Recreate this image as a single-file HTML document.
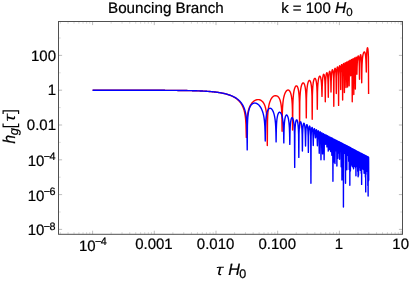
<!DOCTYPE html>
<html><head><meta charset="utf-8"><title>plot</title>
<style>html,body{margin:0;padding:0;background:#fff;}svg{display:block;will-change:transform;}</style></head>
<body>
<svg width="409" height="281" viewBox="0 0 409 281" text-rendering="geometricPrecision">
<rect x="0" y="0" width="409" height="281" fill="#fff"/>
<clipPath id="c"><rect x="58.5" y="21.5" width="344.0" height="212.8"/></clipPath>
<g clip-path="url(#c)" fill="none" stroke-width="1.4" stroke-linejoin="round" stroke-linecap="butt">
<path d="M92.60 90.21 L92.99 90.21 L93.37 90.21 L93.76 90.21 L94.14 90.21 L94.53 90.21 L94.92 90.21 L95.30 90.21 L95.69 90.21 L96.08 90.21 L96.46 90.21 L96.85 90.21 L97.23 90.21 L97.62 90.21 L98.01 90.21 L98.39 90.21 L98.78 90.21 L99.16 90.21 L99.55 90.21 L99.94 90.21 L100.32 90.21 L100.71 90.21 L101.10 90.21 L101.48 90.21 L101.87 90.21 L102.25 90.21 L102.64 90.21 L103.03 90.21 L103.41 90.21 L103.80 90.21 L104.18 90.21 L104.57 90.21 L104.96 90.21 L105.34 90.21 L105.73 90.21 L106.12 90.21 L106.50 90.21 L106.89 90.21 L107.27 90.21 L107.66 90.21 L108.05 90.21 L108.43 90.21 L108.82 90.21 L109.20 90.21 L109.59 90.21 L109.98 90.21 L110.36 90.21 L110.75 90.21 L111.14 90.21 L111.52 90.21 L111.91 90.21 L112.29 90.21 L112.68 90.21 L113.07 90.21 L113.45 90.21 L113.84 90.22 L114.22 90.22 L114.61 90.22 L115.00 90.22 L115.38 90.22 L115.77 90.22 L116.16 90.22 L116.54 90.22 L116.93 90.22 L117.31 90.22 L117.70 90.22 L118.09 90.22 L118.47 90.22 L118.86 90.22 L119.24 90.22 L119.63 90.22 L120.02 90.22 L120.40 90.22 L120.79 90.22 L121.17 90.22 L121.56 90.22 L121.95 90.22 L122.33 90.22 L122.72 90.22 L123.11 90.22 L123.49 90.22 L123.88 90.22 L124.26 90.22 L124.65 90.22 L125.04 90.22 L125.42 90.22 L125.81 90.22 L126.19 90.22 L126.58 90.22 L126.97 90.23 L127.35 90.23 L127.74 90.23 L128.13 90.23 L128.51 90.23 L128.90 90.23 L129.28 90.23 L129.67 90.23 L130.06 90.23 L130.44 90.23 L130.83 90.23 L131.21 90.23 L131.60 90.23 L131.99 90.23 L132.37 90.23 L132.76 90.23 L133.15 90.23 L133.53 90.23 L133.92 90.23 L134.30 90.23 L134.69 90.23 L135.08 90.23 L135.46 90.24 L135.85 90.24 L136.23 90.24 L136.62 90.24 L137.01 90.24 L137.39 90.24 L137.78 90.24 L138.17 90.24 L138.55 90.24 L138.94 90.24 L139.32 90.24 L139.71 90.24 L140.10 90.24 L140.48 90.24 L140.87 90.24 L141.25 90.25 L141.64 90.25 L142.03 90.25 L142.41 90.25 L142.80 90.25 L143.19 90.25 L143.57 90.25 L143.96 90.25 L144.34 90.25 L144.73 90.25 L145.12 90.25 L145.50 90.25 L145.89 90.25 L146.27 90.26 L146.66 90.26 L147.05 90.26 L147.43 90.26 L147.82 90.26 L148.21 90.26 L148.59 90.26 L148.98 90.26 L149.36 90.26 L149.75 90.26 L150.14 90.27 L150.52 90.27 L150.91 90.27 L151.29 90.27 L151.68 90.27 L152.07 90.27 L152.45 90.27 L152.84 90.27 L153.23 90.27 L153.61 90.28 L154.00 90.28 L154.38 90.28 L154.77 90.28 L155.16 90.28 L155.54 90.28 L155.93 90.28 L156.31 90.29 L156.70 90.29 L157.09 90.29 L157.47 90.29 L157.86 90.29 L158.25 90.29 L158.63 90.29 L159.02 90.30 L159.40 90.30 L159.79 90.30 L160.18 90.30 L160.56 90.30 L160.95 90.30 L161.33 90.31 L161.72 90.31 L162.11 90.31 L162.49 90.31 L162.88 90.31 L163.27 90.32 L163.65 90.32 L164.04 90.32 L164.42 90.32 L164.81 90.32 L165.20 90.33 L165.58 90.33 L165.97 90.33 L166.35 90.33 L166.74 90.34 L167.13 90.34 L167.51 90.34 L167.90 90.34 L168.29 90.35 L168.67 90.35 L169.06 90.35 L169.44 90.35 L169.83 90.36 L170.22 90.36 L170.60 90.36 L170.99 90.37 L171.37 90.37 L171.76 90.37 L172.15 90.37 L172.53 90.38 L172.92 90.38 L173.30 90.38 L173.69 90.39 L174.08 90.39 L174.46 90.39 L174.85 90.40 L175.24 90.40 L175.62 90.41 L176.01 90.41 L176.39 90.41 L176.78 90.42 L177.17 90.42 L177.55 90.43 L177.94 90.43 L178.32 90.44 L178.71 90.44 L179.10 90.44 L179.48 90.45 L179.87 90.45 L180.26 90.46 L180.64 90.46 L181.03 90.47 L181.41 90.47 L181.80 90.48 L182.19 90.49 L182.57 90.49 L182.96 90.50 L183.34 90.50 L183.73 90.51 L184.12 90.51 L184.50 90.52 L184.89 90.53 L185.28 90.53 L185.66 90.54 L186.05 90.55 L186.43 90.55 L186.82 90.56 L187.21 90.57 L187.59 90.58 L187.98 90.58 L188.36 90.59 L188.75 90.60 L189.14 90.61 L189.52 90.62 L189.91 90.62 L190.30 90.63 L190.68 90.64 L191.07 90.65 L191.45 90.66 L191.84 90.67 L192.23 90.68 L192.61 90.69 L193.00 90.70 L193.38 90.71 L193.77 90.72 L194.16 90.73 L194.54 90.75 L194.93 90.76 L195.32 90.77 L195.70 90.78 L196.09 90.79 L196.47 90.81 L196.86 90.82 L197.25 90.83 L197.63 90.85 L198.02 90.86 L198.40 90.88 L198.79 90.89 L199.18 90.91 L199.56 90.92 L199.95 90.94 L200.34 90.95 L200.72 90.97 L201.11 90.99 L201.49 91.00 L201.88 91.02 L202.27 91.04 L202.65 91.06 L203.04 91.08 L203.42 91.10 L203.81 91.12 L204.20 91.14 L204.58 91.16 L204.97 91.18 L205.36 91.21 L205.74 91.23 L206.13 91.25 L206.51 91.28 L206.90 91.30 L207.29 91.33 L207.67 91.36 L208.06 91.38 L208.44 91.41 L208.83 91.44 L209.22 91.47 L209.60 91.50 L209.99 91.53 L210.38 91.56 L210.76 91.59 L211.15 91.63 L211.53 91.66 L211.92 91.70 L212.31 91.73 L212.69 91.77 L213.08 91.81 L213.46 91.85 L213.85 91.89 L214.24 91.93 L214.62 91.97 L215.01 92.02 L215.40 92.06 L215.78 92.11 L216.17 92.16 L216.55 92.20 L216.94 92.25 L217.33 92.31 L217.71 92.36 L218.10 92.41 L218.48 92.47 L218.87 92.53 L219.26 92.59 L219.64 92.65 L220.03 92.71 L220.42 92.78 L220.80 92.84 L221.19 92.91 L221.57 92.98 L221.96 93.06 L222.35 93.13 L222.73 93.21 L223.12 93.29 L223.50 93.37 L223.89 93.46 L224.28 93.55 L224.66 93.64 L225.05 93.73 L225.43 93.83 L225.82 93.92 L226.21 94.03 L226.59 94.13 L226.98 94.24 L227.37 94.35 L227.75 94.47 L228.14 94.59 L228.51 94.72 L228.89 94.84 L229.27 94.98 L229.65 95.12 L230.03 95.26 L230.41 95.41 L230.79 95.56 L231.16 95.72 L231.54 95.88 L231.92 96.05 L232.30 96.23 L232.68 96.41 L233.06 96.60 L233.44 96.80 L233.81 97.01 L234.19 97.22 L234.57 97.44 L234.95 97.68 L235.33 97.92 L235.71 98.17 L236.09 98.44 L236.47 98.71 L236.84 99.00 L237.22 99.31 L237.60 99.63 L237.98 99.96 L238.36 100.32 L238.74 100.69 L239.12 101.08 L239.49 101.50 L239.87 101.94 L240.25 102.42 L240.63 102.92 L241.01 103.46 L241.39 104.05 L241.77 104.68 L242.15 105.36 L242.52 106.12 L242.90 106.95 L243.28 107.88 L243.66 108.93 L244.04 110.14 L244.42 111.57 L244.80 113.31 L245.17 115.54 L245.55 118.67 L245.94 123.97 L246.32 137.40 L246.53 128.46 L246.73 123.18 L246.93 120.08 L247.13 117.87 L247.33 116.15 L247.53 114.74 L247.74 113.55 L247.94 112.51 L248.14 111.59 L248.34 110.77 L248.54 110.03 L248.74 109.36 L248.95 108.74 L249.15 108.16 L249.35 107.63 L249.55 107.13 L249.75 106.67 L249.95 106.23 L250.16 105.82 L250.36 105.44 L250.56 105.07 L250.76 104.73 L250.96 104.40 L251.16 104.09 L251.37 103.80 L251.57 103.51 L251.77 103.25 L251.97 103.00 L252.17 102.75 L252.37 102.52 L252.58 102.31 L252.78 102.10 L252.98 101.90 L253.18 101.71 L253.38 101.54 L253.59 101.37 L253.79 101.21 L253.99 101.06 L254.19 100.91 L254.39 100.78 L254.59 100.65 L254.80 100.53 L255.00 100.42 L255.20 100.31 L255.40 100.21 L255.60 100.12 L255.80 100.04 L256.01 99.97 L256.21 99.90 L256.41 99.83 L256.61 99.78 L256.81 99.73 L257.01 99.69 L257.22 99.65 L257.42 99.63 L257.62 99.61 L257.82 99.59 L258.02 99.59 L258.22 99.59 L258.43 99.59 L258.63 99.61 L258.83 99.63 L259.03 99.66 L259.23 99.70 L259.43 99.75 L259.64 99.80 L259.84 99.86 L260.04 99.93 L260.24 100.01 L260.44 100.10 L260.64 100.20 L260.85 100.31 L261.05 100.42 L261.25 100.55 L261.45 100.69 L261.65 100.84 L261.85 101.01 L262.06 101.18 L262.26 101.37 L262.46 101.58 L262.66 101.80 L262.86 102.04 L263.06 102.29 L263.27 102.57 L263.47 102.87 L263.67 103.19 L263.87 103.53 L264.07 103.91 L264.27 104.31 L264.48 104.76 L264.68 105.24 L264.88 105.77 L265.08 106.36 L265.28 107.01 L265.48 107.74 L265.69 108.56 L265.89 109.51 L266.09 110.62 L266.29 111.94 L266.49 113.57 L266.69 115.69 L266.90 118.70 L267.10 123.89 L267.30 145.60 L267.50 121.23 L267.70 115.96 L267.90 112.86 L268.10 110.66 L268.30 108.95 L268.50 107.55 L268.70 106.37 L268.90 105.35 L269.10 104.46 L269.30 103.66 L269.50 102.94 L269.70 102.29 L269.90 101.70 L270.10 101.16 L270.30 100.66 L270.50 100.20 L270.70 99.78 L270.90 99.38 L271.10 99.02 L271.30 98.68 L271.50 98.36 L271.70 98.07 L271.90 97.80 L272.10 97.55 L272.30 97.32 L272.50 97.10 L272.70 96.90 L272.90 96.72 L273.10 96.56 L273.30 96.41 L273.50 96.27 L273.70 96.15 L273.90 96.04 L274.10 95.95 L274.30 95.87 L274.50 95.81 L274.70 95.76 L274.90 95.72 L275.10 95.69 L275.30 95.68 L275.50 95.69 L275.70 95.70 L275.90 95.74 L276.10 95.78 L276.30 95.84 L276.50 95.87 L276.70 95.91 L276.90 95.97 L277.10 96.05 L277.30 96.14 L277.50 96.26 L277.70 96.39 L277.90 96.54 L278.10 96.72 L278.30 96.92 L278.50 97.15 L278.70 97.40 L278.90 97.69 L279.10 98.01 L279.30 98.37 L279.50 98.77 L279.70 99.22 L279.90 99.73 L280.10 100.31 L280.30 100.97 L280.50 101.73 L280.70 102.61 L280.90 103.65 L281.10 104.91 L281.30 106.48 L281.50 108.54 L281.70 111.50 L281.90 116.64 L282.10 131.20 L282.30 113.78 L282.50 108.46 L282.71 105.33 L282.91 103.09 L283.11 101.35 L283.31 99.93 L283.51 98.73 L283.72 97.69 L283.92 96.79 L284.12 95.99 L284.32 95.27 L284.52 94.63 L284.73 94.05 L284.93 93.52 L285.13 93.05 L285.33 92.61 L285.53 92.22 L285.73 91.87 L285.94 91.55 L286.14 91.27 L286.34 91.02 L286.54 90.79 L286.74 90.60 L286.95 90.44 L287.15 90.30 L287.35 90.19 L287.55 90.11 L287.75 90.05 L287.96 90.03 L288.16 90.03 L288.36 90.06 L288.56 90.13 L288.76 90.22 L288.97 90.34 L289.17 90.50 L289.37 90.69 L289.57 90.93 L289.77 91.21 L289.98 91.54 L290.18 91.93 L290.38 92.37 L290.58 92.90 L290.78 93.50 L290.98 94.21 L291.19 95.05 L291.39 96.06 L291.59 97.29 L291.79 98.83 L291.99 100.87 L292.20 103.81 L292.40 108.94 L292.60 130.00 L292.80 105.75 L293.00 100.45 L293.20 97.34 L293.40 95.13 L293.60 93.44 L293.80 92.08 L294.00 90.95 L294.20 90.00 L294.40 89.19 L294.60 88.50 L294.80 87.91 L295.00 87.40 L295.20 86.98 L295.40 86.62 L295.60 86.34 L295.80 86.12 L296.00 85.96 L296.20 85.86 L296.40 85.83 L296.60 85.86 L296.80 85.96 L297.00 86.13 L297.20 86.38 L297.40 86.70 L297.60 87.10 L297.80 87.61 L298.00 88.24 L298.20 89.00 L298.40 89.95 L298.60 91.12 L298.80 92.63 L299.00 94.65 L299.20 97.58 L299.40 102.70 L299.60 128.00 L299.80 102.08 L300.01 96.79 L300.21 93.70 L300.41 91.52 L300.62 89.85 L300.82 88.51 L301.02 87.41 L301.22 86.49 L301.43 85.72 L301.63 85.07 L301.83 84.52 L302.04 84.06 L302.24 83.68 L302.44 83.38 L302.65 83.16 L302.85 83.00 L303.05 82.92 L303.25 82.90 L303.46 82.95 L303.66 83.09 L303.86 83.29 L304.07 83.59 L304.27 83.97 L304.47 84.45 L304.68 85.06 L304.88 85.81 L305.08 86.75 L305.28 87.92 L305.49 89.42 L305.69 91.43 L305.89 94.36 L306.10 99.48 L306.30 117.90 L306.50 98.35 L306.71 93.08 L306.91 90.01 L307.11 87.86 L307.32 86.23 L307.52 84.93 L307.72 83.89 L307.93 83.03 L308.13 82.33 L308.33 81.76 L308.54 81.30 L308.74 80.94 L308.94 80.68 L309.15 80.51 L309.35 80.43 L309.56 80.44 L309.76 80.54 L309.96 80.74 L310.17 81.04 L310.37 81.46 L310.57 82.00 L310.78 82.70 L310.98 83.59 L311.18 84.73 L311.39 86.20 L311.59 88.19 L311.79 91.10 L312.00 96.22 L312.20 119.30 L312.40 94.95 L312.61 89.69 L312.81 86.65 L313.02 84.54 L313.22 82.96 L313.42 81.73 L313.63 80.76 L313.83 79.99 L314.04 79.39 L314.24 78.93 L314.44 78.61 L314.65 78.41 L314.85 78.33 L315.06 78.37 L315.26 78.52 L315.46 78.80 L315.67 79.23 L315.87 79.83 L316.08 80.64 L316.28 81.70 L316.48 83.11 L316.69 85.05 L316.89 87.92 L317.10 93.01 L317.30 109.30 L317.50 92.20 L317.71 86.94 L317.91 83.90 L318.12 81.80 L318.32 80.24 L318.53 79.04 L318.73 78.11 L318.93 77.39 L319.14 76.85 L319.34 76.46 L319.55 76.23 L319.75 76.14 L319.96 76.19 L320.16 76.38 L320.37 76.74 L320.57 77.27 L320.77 78.02 L320.98 79.03 L321.18 80.41 L321.39 82.32 L321.59 85.17 L321.80 90.25 L322.00 96.40 L322.21 87.34 L322.41 82.15 L322.62 79.24 L322.82 77.32 L323.03 76.00 L323.24 75.11 L323.44 74.56 L323.65 74.32 L323.86 74.37 L324.06 74.72 L324.27 75.41 L324.48 76.53 L324.68 78.25 L324.89 80.96 L325.09 85.95 L325.30 101.80 L325.50 85.27 L325.70 80.10 L325.90 77.22 L326.10 75.34 L326.30 74.09 L326.50 73.28 L326.70 72.84 L326.90 72.74 L327.10 72.98 L327.30 73.58 L327.50 74.63 L327.70 76.30 L327.90 78.98 L328.10 83.95 L328.30 97.30 L328.51 82.67 L328.72 77.55 L328.92 74.76 L329.13 73.02 L329.34 71.95 L329.55 71.39 L329.75 71.28 L329.96 71.62 L330.17 72.47 L330.38 73.98 L330.58 76.55 L330.79 81.45 L331.00 92.00 L331.20 81.77 L331.40 76.61 L331.60 73.76 L331.80 71.94 L332.00 70.76 L332.20 70.05 L332.40 69.74 L332.60 69.82 L332.80 70.31 L333.00 71.27 L333.20 72.86 L333.40 75.49 L333.60 80.43 L333.80 106.30 L334.01 79.06 L334.22 73.96 L334.43 71.23 L334.63 69.58 L334.84 68.64 L335.05 68.26 L335.26 68.40 L335.47 69.11 L335.68 70.53 L335.88 73.03 L336.09 77.89 L336.30 93.50 L336.51 77.01 L336.72 71.97 L336.93 69.32 L337.14 67.80 L337.35 67.05 L337.55 66.93 L337.76 67.45 L337.97 68.74 L338.18 71.15 L338.39 75.96 L338.60 105.40 L338.81 75.03 L339.02 70.05 L339.23 67.52 L339.44 66.18 L339.65 65.68 L339.87 65.94 L340.08 67.04 L340.29 69.34 L340.50 74.08 L340.71 89.56 L340.92 73.07 L341.14 68.19 L341.35 65.81 L341.57 64.73 L341.78 64.62 L342.00 65.48 L342.21 67.62 L342.43 72.27 L342.64 100.00 L342.86 71.19 L343.08 66.44 L343.31 64.30 L343.53 63.59 L343.75 64.07 L343.97 65.98 L344.19 70.50 L344.41 92.50 L344.62 70.28 L344.82 65.53 L345.02 63.41 L345.22 62.70 L345.43 63.19 L345.63 65.11 L345.83 69.64 L346.04 87.57 L346.26 68.47 L346.48 63.91 L346.70 62.12 L346.92 62.01 L347.14 63.56 L347.37 67.89 L347.59 87.07 L347.81 67.66 L348.03 63.10 L348.25 61.31 L348.47 61.20 L348.69 62.75 L348.92 67.08 L349.14 85.70 L349.36 66.85 L349.58 62.29 L349.80 60.50 L350.02 60.39 L350.24 61.94 L350.47 66.27 L350.69 75.84 L350.91 66.04 L351.13 61.48 L351.35 59.69 L351.57 59.58 L351.79 61.13 L352.02 65.46 L352.24 101.80 L352.46 65.23 L352.68 60.67 L352.90 58.88 L353.12 58.77 L353.34 60.32 L353.57 64.65 L353.79 94.60 L354.01 64.42 L354.23 59.86 L354.45 58.07 L354.67 57.96 L354.89 59.51 L355.12 63.84 L355.34 89.10 L355.56 63.61 L355.78 59.04 L356.00 57.26 L356.22 57.15 L356.44 58.70 L356.67 63.03 L356.89 74.33 L357.09 67.31 L357.29 62.19 L357.49 59.40 L357.69 57.66 L357.89 56.59 L358.09 56.03 L358.29 55.93 L358.49 56.27 L358.70 57.13 L358.90 58.66 L359.10 61.24 L359.30 66.15 L359.50 79.30 L359.72 64.00 L359.94 59.03 L360.16 56.50 L360.38 55.16 L360.60 54.67 L360.82 54.93 L361.04 56.04 L361.26 58.34 L361.48 63.03 L361.70 82.70 L361.90 68.90 L362.10 63.58 L362.30 60.48 L362.50 58.31 L362.70 56.69 L362.90 55.43 L363.10 54.43 L363.30 53.64 L363.50 53.04 L363.70 52.59 L363.90 52.30 L364.10 52.09 L364.30 51.97 L364.50 52.01 L364.70 52.20 L364.90 52.57 L365.10 53.16 L365.30 54.01 L365.50 55.22 L365.70 56.97 L365.90 59.66 L366.10 64.57 L366.30 72.00 L366.51 58.55 L366.72 53.35 L366.93 50.55 L367.14 48.88 L367.35 47.98 L367.55 47.74 L367.76 48.26 L367.97 49.53 L368.18 51.94 L368.39 56.74 L368.60 94.00" stroke="#ff0000"/>
<path d="M92.60 90.21 L92.99 90.21 L93.37 90.21 L93.76 90.21 L94.14 90.21 L94.53 90.21 L94.92 90.21 L95.30 90.21 L95.69 90.21 L96.08 90.21 L96.46 90.21 L96.85 90.21 L97.23 90.21 L97.62 90.21 L98.01 90.21 L98.39 90.21 L98.78 90.21 L99.16 90.21 L99.55 90.21 L99.94 90.21 L100.32 90.21 L100.71 90.21 L101.10 90.21 L101.48 90.21 L101.87 90.21 L102.25 90.21 L102.64 90.21 L103.03 90.21 L103.41 90.21 L103.80 90.21 L104.18 90.21 L104.57 90.21 L104.96 90.21 L105.34 90.21 L105.73 90.21 L106.12 90.21 L106.50 90.21 L106.89 90.21 L107.27 90.21 L107.66 90.21 L108.05 90.21 L108.43 90.21 L108.82 90.21 L109.20 90.21 L109.59 90.21 L109.98 90.21 L110.36 90.21 L110.75 90.21 L111.14 90.21 L111.52 90.21 L111.91 90.21 L112.29 90.21 L112.68 90.21 L113.07 90.21 L113.45 90.21 L113.84 90.22 L114.22 90.22 L114.61 90.22 L115.00 90.22 L115.38 90.22 L115.77 90.22 L116.16 90.22 L116.54 90.22 L116.93 90.22 L117.31 90.22 L117.70 90.22 L118.09 90.22 L118.47 90.22 L118.86 90.22 L119.24 90.22 L119.63 90.22 L120.02 90.22 L120.40 90.22 L120.79 90.22 L121.17 90.22 L121.56 90.22 L121.95 90.22 L122.33 90.22 L122.72 90.22 L123.11 90.22 L123.49 90.22 L123.88 90.22 L124.26 90.22 L124.65 90.22 L125.04 90.22 L125.42 90.22 L125.81 90.22 L126.19 90.22 L126.58 90.22 L126.97 90.23 L127.35 90.23 L127.74 90.23 L128.13 90.23 L128.51 90.23 L128.90 90.23 L129.28 90.23 L129.67 90.23 L130.06 90.23 L130.44 90.23 L130.83 90.23 L131.21 90.23 L131.60 90.23 L131.99 90.23 L132.37 90.23 L132.76 90.23 L133.15 90.23 L133.53 90.23 L133.92 90.23 L134.30 90.23 L134.69 90.23 L135.08 90.23 L135.46 90.24 L135.85 90.24 L136.23 90.24 L136.62 90.24 L137.01 90.24 L137.39 90.24 L137.78 90.24 L138.17 90.24 L138.55 90.24 L138.94 90.24 L139.32 90.24 L139.71 90.24 L140.10 90.24 L140.48 90.24 L140.87 90.24 L141.25 90.25 L141.64 90.25 L142.03 90.25 L142.41 90.25 L142.80 90.25 L143.19 90.25 L143.57 90.25 L143.96 90.25 L144.34 90.25 L144.73 90.25 L145.12 90.25 L145.50 90.25 L145.89 90.25 L146.27 90.26 L146.66 90.26 L147.05 90.26 L147.43 90.26 L147.82 90.26 L148.21 90.26 L148.59 90.26 L148.98 90.26 L149.36 90.26 L149.75 90.26 L150.14 90.27 L150.52 90.27 L150.91 90.27 L151.29 90.27 L151.68 90.27 L152.07 90.27 L152.45 90.27 L152.84 90.27 L153.23 90.27 L153.61 90.28 L154.00 90.28 L154.38 90.28 L154.77 90.28 L155.16 90.28 L155.54 90.28 L155.93 90.28 L156.31 90.29 L156.70 90.29 L157.09 90.29 L157.47 90.29 L157.86 90.29 L158.25 90.29 L158.63 90.29 L159.02 90.30 L159.40 90.30 L159.79 90.30 L160.18 90.30 L160.56 90.30 L160.95 90.30 L161.33 90.31 L161.72 90.31 L162.11 90.31 L162.49 90.31 L162.88 90.31 L163.27 90.32 L163.65 90.32 L164.04 90.32 L164.42 90.32 L164.81 90.32 L165.20 90.33 L165.58 90.33 L165.97 90.33 L166.35 90.33 L166.74 90.34 L167.13 90.34 L167.51 90.34 L167.90 90.34 L168.29 90.35 L168.67 90.35 L169.06 90.35 L169.44 90.35 L169.83 90.36 L170.22 90.36 L170.60 90.36 L170.99 90.37 L171.37 90.37 L171.76 90.37 L172.15 90.37 L172.53 90.38 L172.92 90.38 L173.30 90.38 L173.69 90.39 L174.08 90.39 L174.46 90.39 L174.85 90.40 L175.24 90.40 L175.62 90.41 L176.01 90.41 L176.39 90.41 L176.78 90.42 L177.17 90.42 L177.55 90.43 L177.94 90.43 L178.32 90.44 L178.71 90.44 L179.10 90.44 L179.48 90.45 L179.87 90.45 L180.26 90.46 L180.64 90.46 L181.03 90.47 L181.41 90.47 L181.80 90.48 L182.19 90.49 L182.57 90.49 L182.96 90.50 L183.34 90.50 L183.73 90.51 L184.12 90.51 L184.50 90.52 L184.89 90.53 L185.28 90.53 L185.66 90.54 L186.05 90.55 L186.43 90.55 L186.82 90.56 L187.21 90.57 L187.59 90.58 L187.98 90.58 L188.36 90.59 L188.75 90.60 L189.14 90.61 L189.52 90.62 L189.91 90.62 L190.30 90.63 L190.68 90.64 L191.07 90.65 L191.45 90.66 L191.84 90.67 L192.23 90.68 L192.61 90.69 L193.00 90.70 L193.38 90.71 L193.77 90.72 L194.16 90.73 L194.54 90.75 L194.93 90.76 L195.32 90.77 L195.70 90.78 L196.09 90.79 L196.47 90.81 L196.86 90.82 L197.25 90.83 L197.63 90.85 L198.02 90.86 L198.40 90.88 L198.79 90.89 L199.18 90.91 L199.56 90.92 L199.95 90.94 L200.34 90.95 L200.72 90.97 L201.11 90.99 L201.49 91.00 L201.88 91.02 L202.27 91.04 L202.65 91.06 L203.04 91.08 L203.42 91.10 L203.81 91.12 L204.20 91.14 L204.58 91.16 L204.97 91.18 L205.36 91.21 L205.74 91.23 L206.13 91.25 L206.51 91.28 L206.90 91.30 L207.29 91.33 L207.67 91.36 L208.06 91.38 L208.44 91.41 L208.83 91.44 L209.22 91.47 L209.60 91.50 L209.99 91.53 L210.38 91.56 L210.76 91.59 L211.15 91.63 L211.53 91.66 L211.92 91.70 L212.31 91.73 L212.69 91.77 L213.08 91.81 L213.46 91.85 L213.85 91.89 L214.24 91.93 L214.62 91.97 L215.01 92.02 L215.40 92.06 L215.78 92.11 L216.17 92.16 L216.55 92.20 L216.94 92.25 L217.33 92.31 L217.71 92.36 L218.10 92.41 L218.48 92.47 L218.87 92.53 L219.26 92.59 L219.64 92.65 L220.03 92.71 L220.42 92.78 L220.80 92.84 L221.19 92.91 L221.57 92.98 L221.96 93.06 L222.35 93.13 L222.73 93.21 L223.12 93.29 L223.50 93.37 L223.89 93.46 L224.28 93.55 L224.66 93.64 L225.05 93.73 L225.43 93.83 L225.82 93.92 L226.21 94.03 L226.59 94.13 L226.98 94.24 L227.37 94.35 L227.75 94.47 L228.14 94.59 L228.54 94.72 L228.94 94.84 L229.34 94.98 L229.73 95.12 L230.13 95.26 L230.53 95.41 L230.93 95.56 L231.33 95.72 L231.72 95.88 L232.12 96.05 L232.52 96.23 L232.92 96.41 L233.32 96.60 L233.71 96.80 L234.11 97.01 L234.51 97.22 L234.91 97.44 L235.31 97.68 L235.70 97.92 L236.10 98.17 L236.50 98.44 L236.90 98.71 L237.30 99.00 L237.69 99.31 L238.09 99.63 L238.49 99.96 L238.89 100.32 L239.28 100.69 L239.68 101.08 L240.08 101.50 L240.48 101.94 L240.88 102.42 L241.27 102.92 L241.67 103.46 L242.07 104.05 L242.47 104.68 L242.87 105.36 L243.26 106.12 L243.66 106.95 L244.06 107.88 L244.46 108.93 L244.86 110.14 L245.25 111.57 L245.65 113.31 L246.05 115.54 L246.45 118.67 L246.84 123.97 L247.22 149.90 L247.42 125.60 L247.62 120.44 L247.82 117.45 L248.03 115.36 L248.23 113.75 L248.43 112.46 L248.63 111.39 L248.83 110.47 L249.03 109.68 L249.23 108.98 L249.43 108.36 L249.63 107.81 L249.83 107.32 L250.03 106.87 L250.23 106.46 L250.43 106.09 L250.63 105.76 L250.83 105.45 L251.03 105.17 L251.23 104.91 L251.43 104.68 L251.63 104.47 L251.83 104.27 L252.03 104.10 L252.23 103.94 L252.43 103.80 L252.63 103.67 L252.83 103.55 L253.03 103.45 L253.23 103.36 L253.43 103.29 L253.63 103.22 L253.83 103.17 L254.03 103.13 L254.23 103.10 L254.43 103.08 L254.63 103.07 L254.83 103.06 L255.03 103.07 L255.23 103.09 L255.43 103.12 L255.64 103.16 L255.84 103.21 L256.04 103.26 L256.24 103.33 L256.44 103.40 L256.64 103.49 L256.84 103.58 L257.04 103.68 L257.24 103.79 L257.44 103.92 L257.64 104.05 L257.84 104.19 L258.04 104.34 L258.24 104.50 L258.44 104.67 L258.64 104.85 L258.84 105.05 L259.04 105.25 L259.24 105.47 L259.44 105.69 L259.64 105.94 L259.84 106.19 L260.04 106.46 L260.24 106.74 L260.44 107.04 L260.64 107.36 L260.84 107.69 L261.04 108.05 L261.24 108.42 L261.44 108.82 L261.64 109.24 L261.84 109.68 L262.04 110.16 L262.24 110.67 L262.44 111.21 L262.64 111.80 L262.84 112.44 L263.04 113.13 L263.25 113.89 L263.45 114.73 L263.65 115.66 L263.85 116.72 L264.05 117.93 L264.25 119.36 L264.45 121.10 L264.65 123.34 L264.85 126.46 L265.05 131.77 L265.25 141.00 L265.45 128.05 L265.65 122.89 L265.85 119.92 L266.05 117.85 L266.25 116.27 L266.45 115.01 L266.66 113.97 L266.86 113.10 L267.06 112.35 L267.26 111.71 L267.46 111.15 L267.66 110.67 L267.86 110.24 L268.06 109.87 L268.27 109.55 L268.47 109.27 L268.67 109.04 L268.87 108.84 L269.07 108.67 L269.27 108.53 L269.47 108.43 L269.67 108.36 L269.88 108.31 L270.08 108.29 L270.28 108.29 L270.48 108.33 L270.68 108.38 L270.88 108.47 L271.08 108.58 L271.28 108.71 L271.48 108.89 L271.69 109.09 L271.89 109.32 L272.09 109.58 L272.29 109.88 L272.49 110.20 L272.69 110.56 L272.89 110.95 L273.09 111.39 L273.30 111.86 L273.50 112.39 L273.70 112.97 L273.90 113.61 L274.10 114.33 L274.30 115.13 L274.50 116.03 L274.70 117.06 L274.91 118.26 L275.11 119.68 L275.31 121.41 L275.51 123.64 L275.71 126.77 L275.91 132.08 L276.11 141.90 L276.32 129.60 L276.52 124.48 L276.72 121.55 L276.92 119.52 L277.13 118.00 L277.33 116.80 L277.53 115.84 L277.74 115.05 L277.94 114.40 L278.14 113.86 L278.34 113.42 L278.55 113.06 L278.75 112.78 L278.95 112.56 L279.16 112.40 L279.36 112.30 L279.56 112.26 L279.76 112.27 L279.97 112.33 L280.17 112.43 L280.37 112.59 L280.58 112.80 L280.78 113.07 L280.98 113.39 L281.18 113.78 L281.39 114.23 L281.59 114.76 L281.79 115.36 L282.00 116.07 L282.20 116.89 L282.40 117.85 L282.60 118.98 L282.81 120.34 L283.01 122.03 L283.21 124.22 L283.42 127.32 L283.62 132.61 L283.82 142.90 L284.03 130.74 L284.23 125.62 L284.44 122.72 L284.65 120.73 L284.85 119.26 L285.06 118.13 L285.26 117.24 L285.47 116.55 L285.68 116.00 L285.88 115.59 L286.09 115.29 L286.30 115.10 L286.50 115.00 L286.71 115.02 L286.91 115.12 L287.12 115.31 L287.33 115.59 L287.53 115.97 L287.74 116.46 L287.94 117.05 L288.15 117.78 L288.36 118.66 L288.56 119.73 L288.77 121.04 L288.98 122.70 L289.18 124.87 L289.39 127.96 L289.59 133.26 L289.80 144.40 L290.00 132.04 L290.21 126.97 L290.41 124.11 L290.61 122.20 L290.82 120.81 L291.02 119.78 L291.23 119.01 L291.43 118.45 L291.63 118.06 L291.84 117.83 L292.04 117.73 L292.24 117.77 L292.45 117.93 L292.65 118.22 L292.85 118.65 L293.06 119.23 L293.26 119.99 L293.46 120.95 L293.67 122.18 L293.87 123.76 L294.08 125.87 L294.28 128.92 L294.48 134.18 L294.69 167.40 L294.89 133.00 L295.10 127.95 L295.31 125.14 L295.51 123.28 L295.72 121.98 L295.93 121.06 L296.13 120.42 L296.34 120.02 L296.54 119.83 L296.75 119.83 L296.96 120.02 L297.16 120.42 L297.37 121.01 L297.58 121.85 L297.78 122.97 L297.99 124.48 L298.20 126.53 L298.40 129.55 L298.61 134.80 L298.82 157.40 L299.03 133.79 L299.24 128.79 L299.45 126.06 L299.66 124.30 L299.87 123.13 L300.08 122.37 L300.29 121.93 L300.50 121.78 L300.71 121.88 L300.92 122.23 L301.13 122.86 L301.34 123.81 L301.55 125.18 L301.76 127.13 L301.97 130.06 L302.18 135.25 L302.39 151.00 L302.61 134.49 L302.82 129.51 L303.03 126.81 L303.24 125.13 L303.45 124.06 L303.66 123.44 L303.87 123.19 L304.08 123.28 L304.29 123.72 L304.50 124.53 L304.71 125.78 L304.92 127.66 L305.13 130.54 L305.34 135.71 L305.55 146.00 L305.75 135.40 L305.95 130.45 L306.16 127.81 L306.36 126.19 L306.56 125.22 L306.76 124.72 L306.96 124.64 L307.16 124.94 L307.37 125.65 L307.57 126.83 L307.77 128.65 L307.97 131.50 L308.17 136.65 L308.37 152.40 L308.59 135.73 L308.80 130.87 L309.01 128.37 L309.23 126.95 L309.44 126.24 L309.65 126.09 L309.86 126.47 L310.08 127.41 L310.29 129.06 L310.50 131.79 L310.72 136.88 L310.93 183.30 L311.14 136.47 L311.35 131.66 L311.56 129.24 L311.78 127.96 L311.99 127.43 L312.20 127.55 L312.41 128.30 L312.62 129.81 L312.84 132.46 L313.05 137.50 L313.26 145.50 L313.47 137.03 L313.69 132.29 L313.90 129.99 L314.12 128.88 L314.33 128.62 L314.55 129.12 L314.76 130.45 L314.98 132.98 L315.40 137.70 L315.63 137.43 L315.85 132.78 L316.07 130.64 L316.29 129.79 L316.51 129.91 L316.73 131.00 L316.95 133.37 L317.17 138.26 L317.39 145.84 L317.60 138.49 L317.80 133.83 L318.01 131.69 L318.21 130.83 L318.42 130.94 L318.62 132.02 L318.83 134.39 L319.03 139.27 L319.24 153.33 L319.46 138.65 L319.67 134.12 L319.89 132.22 L320.10 131.74 L320.32 132.45 L320.54 134.59 L320.75 139.35 L320.97 159.70 L321.17 139.57 L321.37 135.04 L321.58 133.13 L321.78 132.64 L321.98 133.35 L322.19 135.48 L322.39 140.23 L322.59 153.90 L322.81 139.51 L323.03 135.18 L323.25 133.63 L323.47 133.75 L323.69 135.53 L323.91 140.10 L324.12 159.70 L324.33 140.33 L324.54 135.99 L324.75 134.43 L324.95 134.55 L325.16 136.33 L325.37 140.89 L325.57 144.25 L325.80 140.05 L326.03 136.02 L326.26 135.06 L326.49 136.27 L326.72 140.55 L326.95 146.90 L327.17 140.79 L327.38 136.75 L327.60 135.78 L327.82 136.99 L328.04 141.26 L328.26 151.11 L328.46 141.48 L328.67 137.44 L328.88 136.46 L329.09 137.65 L329.29 141.91 L329.50 149.60 L329.70 142.12 L329.90 138.08 L330.10 137.09 L330.30 138.28 L330.49 142.54 L330.69 151.58 L330.88 142.74 L331.07 138.69 L331.26 137.70 L331.45 138.89 L331.64 143.14 L331.83 155.36 L332.02 143.33 L332.20 139.27 L332.38 138.28 L332.56 139.46 L332.74 143.71 L332.93 181.20 L333.10 143.90 L333.28 139.84 L333.45 138.84 L333.63 140.02 L333.80 144.26 L333.98 161.98 L334.15 144.44 L334.32 140.38 L334.48 139.38 L334.65 140.55 L334.82 144.79 L334.99 163.50 L335.15 144.96 L335.31 140.90 L335.48 139.89 L335.64 141.07 L335.80 145.30 L335.96 150.76 L336.12 145.47 L336.28 141.40 L336.43 140.39 L336.59 141.56 L336.75 145.79 L336.90 166.10 L337.06 145.96 L337.21 141.88 L337.36 140.88 L337.51 142.04 L337.66 146.27 L337.81 158.22 L337.96 146.43 L338.11 142.35 L338.25 141.34 L338.40 142.50 L338.54 146.73 L338.69 152.95 L338.83 146.88 L338.97 142.80 L339.12 141.79 L339.26 142.95 L339.40 147.18 L339.54 159.19 L339.68 147.32 L339.82 143.24 L339.95 142.23 L340.09 143.39 L340.23 147.61 L340.37 151.46 L340.50 147.75 L340.63 143.67 L340.77 142.65 L340.90 143.81 L341.03 148.03 L341.17 166.70 L341.30 148.16 L341.43 144.08 L341.55 143.06 L341.68 144.22 L341.81 148.43 L341.94 180.07 L342.07 148.57 L342.19 144.48 L342.32 143.46 L342.45 144.61 L342.57 148.83 L342.70 154.07 L342.82 148.96 L342.94 144.87 L343.07 143.85 L343.19 145.00 L343.31 149.21 L343.43 207.00 L343.55 149.34 L343.67 145.25 L343.79 144.23 L343.91 145.37 L344.03 149.59 L344.15 153.12 L344.26 149.71 L344.38 145.62 L344.49 144.59 L344.61 145.74 L344.73 149.95 L344.84 153.49 L344.96 150.07 L345.07 145.98 L345.18 144.95 L345.30 146.10 L345.41 150.31 L345.52 183.30 L345.63 150.42 L345.74 146.33 L345.85 145.30 L345.96 146.44 L346.07 150.65 L346.18 169.16 L346.29 150.77 L346.40 146.67 L346.51 145.64 L346.61 146.78 L346.72 150.99 L346.83 169.78 L346.93 151.10 L347.04 147.00 L347.14 145.97 L347.25 147.11 L347.35 151.32 L347.46 155.37 L347.56 151.43 L347.66 147.33 L347.77 146.30 L347.87 147.44 L347.97 151.64 L348.08 154.96 L348.18 151.75 L348.28 147.65 L348.38 146.61 L348.48 147.75 L348.58 151.96 L348.68 161.30 L348.78 152.06 L348.87 147.96 L348.97 146.92 L349.07 148.06 L349.17 152.27 L349.27 169.40 L349.36 152.37 L349.46 148.27 L349.55 147.23 L349.65 148.37 L349.75 152.57 L349.84 185.26 L349.94 152.67 L350.03 148.57 L350.12 147.53 L350.22 148.66 L350.31 152.86 L350.41 171.01 L350.50 152.96 L350.59 148.86 L350.68 147.82 L350.78 148.96 L350.87 153.16 L350.96 162.01 L351.05 153.25 L351.14 149.15 L351.23 148.11 L351.32 149.24 L351.41 153.44 L351.50 164.57 L351.59 153.53 L351.68 149.43 L351.77 148.39 L351.85 149.52 L351.94 153.72 L352.03 166.06 L352.12 153.81 L352.20 149.71 L352.29 148.66 L352.38 149.80 L352.46 153.99 L352.55 166.72 L352.64 154.08 L352.72 149.98 L352.81 148.93 L352.89 150.07 L352.98 154.26 L353.06 165.18 L353.15 154.35 L353.23 150.24 L353.31 149.20 L353.40 150.33 L353.48 154.53 L353.56 168.86 L353.64 154.61 L353.73 150.50 L353.81 149.46 L353.89 150.59 L353.97 154.78 L354.05 162.41 L354.13 154.87 L354.22 150.76 L354.30 149.72 L354.38 150.85 L354.46 155.04 L354.54 166.18 L354.62 155.12 L354.70 151.01 L354.77 149.97 L354.85 151.10 L354.93 155.29 L355.01 158.27 L355.09 155.37 L355.17 151.26 L355.24 150.21 L355.32 151.34 L355.40 155.53 L355.48 167.62 L355.55 155.61 L355.63 151.50 L355.71 150.46 L355.78 151.58 L355.86 155.77 L355.94 175.80 L356.01 155.85 L356.09 151.74 L356.16 150.69 L356.24 151.82 L356.31 156.01 L356.39 159.77 L356.46 156.09 L356.53 151.98 L356.61 150.93 L356.68 152.05 L356.76 156.24 L356.83 166.50 L356.90 156.32 L356.97 152.21 L357.05 151.16 L357.12 152.28 L357.19 156.47 L357.26 164.91 L357.34 156.55 L357.41 152.44 L357.48 151.39 L357.55 152.51 L357.62 156.70 L357.69 171.31 L357.76 156.77 L357.83 152.66 L357.90 151.61 L357.97 152.73 L358.05 156.92 L358.12 176.69 L358.18 156.99 L358.25 152.88 L358.32 151.83 L358.39 152.95 L358.46 157.14 L358.53 175.35 L358.60 157.21 L358.67 153.10 L358.74 152.04 L358.80 153.17 L358.87 157.35 L358.94 167.45 L359.01 157.43 L359.07 153.31 L359.14 152.26 L359.21 153.38 L359.28 157.57 L359.34 165.48 L359.41 157.64 L359.48 153.52 L359.54 152.47 L359.61 153.59 L359.67 157.77 L359.74 165.57 L359.81 157.84 L359.87 153.73 L359.94 152.67 L360.00 153.80 L360.07 157.98 L360.13 170.31 L360.20 158.05 L360.26 153.93 L360.32 152.88 L360.39 154.00 L360.45 158.18 L360.52 167.01 L360.58 158.25 L360.64 154.13 L360.71 153.08 L360.77 154.20 L360.83 158.38 L360.90 161.61 L360.96 158.45 L361.02 154.33 L361.08 153.28 L361.15 154.40 L361.21 158.58 L361.27 173.14 L361.33 158.65 L361.39 154.53 L361.46 153.47 L361.52 154.59 L361.58 158.77 L361.64 184.40 L361.70 158.84 L361.76 154.72 L361.82 153.66 L361.88 154.78 L361.94 158.97 L362.01 165.58 L362.07 159.03 L362.13 154.91 L362.19 153.85 L362.25 154.97 L362.31 159.16 L362.37 168.91 L362.42 159.22 L362.48 155.10 L362.54 154.04 L362.60 155.16 L362.66 159.34 L362.72 163.76 L362.78 159.40 L362.84 155.28 L362.90 154.23 L362.95 155.34 L363.01 159.53 L363.07 167.66 L363.13 159.59 L363.19 155.47 L363.24 154.41 L363.30 155.53 L363.36 159.71 L363.42 169.52 L363.47 159.77 L363.53 155.65 L363.59 154.59 L363.64 155.71 L363.70 159.89 L363.76 165.39 L363.81 159.95 L363.87 155.83 L363.93 154.77 L363.98 155.88 L364.04 160.06 L364.09 173.26 L364.15 160.12 L364.21 156.00 L364.26 154.94 L364.32 156.06 L364.37 160.24 L364.43 170.25 L364.48 160.30 L364.54 156.18 L364.59 155.12 L364.65 156.23 L364.70 160.41 L364.76 165.14 L364.81 160.47 L364.86 156.35 L364.92 155.29 L364.97 156.40 L365.03 160.58 L365.08 166.43 L365.13 160.64 L365.19 156.52 L365.24 155.46 L365.30 156.57 L365.35 160.75 L365.40 176.96 L365.46 160.81 L365.51 156.68 L365.56 155.63 L365.61 156.74 L365.67 160.92 L365.72 191.90 L365.77 160.97 L365.82 156.85 L365.88 155.79 L365.93 156.91 L365.98 161.08 L366.03 174.14 L366.08 161.14 L366.14 157.01 L366.19 155.95 L366.24 157.07 L366.29 161.25 L366.34 169.56 L366.39 161.30 L366.44 157.18 L366.50 156.12 L366.55 157.23 L366.60 161.41 L366.65 168.87 L366.70 161.46 L366.75 157.34 L366.80 156.28 L366.85 157.39 L366.90 161.57 L366.95 168.69 L367.00 161.62 L367.05 157.49 L367.10 156.43 L367.15 157.55 L367.20 161.72 L367.25 171.18 L367.30 161.78 L367.35 157.65 L367.40 156.59 L367.45 157.70 L367.50 161.88 L367.55 171.22 L367.60 161.93 L367.64 157.81 L367.69 156.74 L367.74 157.86 L367.79 162.03 L367.84 185.50 L367.89 162.08 L367.94 157.96 L367.98 156.90 L368.03 158.01 L368.08 162.19 L368.13 196.06 L368.18 162.24 L368.23 158.11 L368.27 157.05 L368.32 158.16 L368.37 162.34 L368.42 180.91 L368.46 162.39 L368.51 158.26 L368.56 157.20 L368.61 158.31 L368.65 162.48 L368.70 180.47" stroke="#0000ff"/>
</g>
<path d="M92.60 234.3 v-3.6 M92.60 21.5 v3.6 M154.30 234.3 v-3.6 M154.30 21.5 v3.6 M216.00 234.3 v-3.6 M216.00 21.5 v3.6 M277.70 234.3 v-3.6 M277.70 21.5 v3.6 M339.40 234.3 v-3.6 M339.40 21.5 v3.6 M401.10 234.3 v-3.6 M401.10 21.5 v3.6 M58.5 229.40 h3.6 M402.5 229.40 h-3.6 M58.5 194.60 h3.6 M402.5 194.60 h-3.6 M58.5 159.80 h3.6 M402.5 159.80 h-3.6 M58.5 125.00 h3.6 M402.5 125.00 h-3.6 M58.5 90.20 h3.6 M402.5 90.20 h-3.6 M58.5 55.40 h3.6 M402.5 55.40 h-3.6" stroke="#acacac" stroke-width="0.8" fill="none"/>
<path d="M60.34 234.3 v-2.2 M60.34 21.5 v2.2 M68.05 234.3 v-2.2 M68.05 21.5 v2.2 M74.03 234.3 v-2.2 M74.03 21.5 v2.2 M78.91 234.3 v-2.2 M78.91 21.5 v2.2 M83.04 234.3 v-2.2 M83.04 21.5 v2.2 M86.62 234.3 v-2.2 M86.62 21.5 v2.2 M89.78 234.3 v-2.2 M89.78 21.5 v2.2 M111.17 234.3 v-2.2 M111.17 21.5 v2.2 M122.04 234.3 v-2.2 M122.04 21.5 v2.2 M129.75 234.3 v-2.2 M129.75 21.5 v2.2 M135.73 234.3 v-2.2 M135.73 21.5 v2.2 M140.61 234.3 v-2.2 M140.61 21.5 v2.2 M144.74 234.3 v-2.2 M144.74 21.5 v2.2 M148.32 234.3 v-2.2 M148.32 21.5 v2.2 M151.48 234.3 v-2.2 M151.48 21.5 v2.2 M172.87 234.3 v-2.2 M172.87 21.5 v2.2 M183.74 234.3 v-2.2 M183.74 21.5 v2.2 M191.45 234.3 v-2.2 M191.45 21.5 v2.2 M197.43 234.3 v-2.2 M197.43 21.5 v2.2 M202.31 234.3 v-2.2 M202.31 21.5 v2.2 M206.44 234.3 v-2.2 M206.44 21.5 v2.2 M210.02 234.3 v-2.2 M210.02 21.5 v2.2 M213.18 234.3 v-2.2 M213.18 21.5 v2.2 M234.57 234.3 v-2.2 M234.57 21.5 v2.2 M245.44 234.3 v-2.2 M245.44 21.5 v2.2 M253.15 234.3 v-2.2 M253.15 21.5 v2.2 M259.13 234.3 v-2.2 M259.13 21.5 v2.2 M264.01 234.3 v-2.2 M264.01 21.5 v2.2 M268.14 234.3 v-2.2 M268.14 21.5 v2.2 M271.72 234.3 v-2.2 M271.72 21.5 v2.2 M274.88 234.3 v-2.2 M274.88 21.5 v2.2 M296.27 234.3 v-2.2 M296.27 21.5 v2.2 M307.14 234.3 v-2.2 M307.14 21.5 v2.2 M314.85 234.3 v-2.2 M314.85 21.5 v2.2 M320.83 234.3 v-2.2 M320.83 21.5 v2.2 M325.71 234.3 v-2.2 M325.71 21.5 v2.2 M329.84 234.3 v-2.2 M329.84 21.5 v2.2 M333.42 234.3 v-2.2 M333.42 21.5 v2.2 M336.58 234.3 v-2.2 M336.58 21.5 v2.2 M357.97 234.3 v-2.2 M357.97 21.5 v2.2 M368.84 234.3 v-2.2 M368.84 21.5 v2.2 M376.55 234.3 v-2.2 M376.55 21.5 v2.2 M382.53 234.3 v-2.2 M382.53 21.5 v2.2 M387.41 234.3 v-2.2 M387.41 21.5 v2.2 M391.54 234.3 v-2.2 M391.54 21.5 v2.2 M395.12 234.3 v-2.2 M395.12 21.5 v2.2 M398.28 234.3 v-2.2 M398.28 21.5 v2.2 M58.5 212.00 h2.2 M402.5 212.00 h-2.2 M58.5 177.20 h2.2 M402.5 177.20 h-2.2 M58.5 142.40 h2.2 M402.5 142.40 h-2.2 M58.5 107.60 h2.2 M402.5 107.60 h-2.2 M58.5 72.80 h2.2 M402.5 72.80 h-2.2 M58.5 38.00 h2.2 M402.5 38.00 h-2.2" stroke="#c0c0c0" stroke-width="0.6" fill="none"/>
<rect x="58.5" y="21.5" width="344.0" height="212.8" fill="none" stroke="#505050" stroke-width="1"/>
<g font-family="Liberation Sans, sans-serif" font-size="15" fill="#000" stroke="#000" stroke-width="0.22">
<text x="56" y="60.60" text-anchor="end">100</text>
<text x="56" y="95.40" text-anchor="end">1</text>
<text x="56" y="130.20" text-anchor="end">0.01</text>
<text x="55.5" y="165.85" text-anchor="end">10<tspan font-size="10.8" dy="-5.9" dx="-0.6">&#8722;</tspan><tspan font-size="10.8" dx="-0.6">4</tspan></text>
<text x="55.5" y="200.65" text-anchor="end">10<tspan font-size="10.8" dy="-5.9" dx="-0.6">&#8722;</tspan><tspan font-size="10.8" dx="-0.6">6</tspan></text>
<text x="55.5" y="235.45" text-anchor="end">10<tspan font-size="10.8" dy="-5.9" dx="-0.6">&#8722;</tspan><tspan font-size="10.8" dx="-0.6">8</tspan></text>
<text x="153.90" y="249.35" text-anchor="middle">0.001</text>
<text x="215.60" y="249.35" text-anchor="middle">0.010</text>
<text x="277.30" y="249.35" text-anchor="middle">0.100</text>
<text x="339.00" y="249.35" text-anchor="middle">1</text>
<text x="400.70" y="249.35" text-anchor="middle">10</text>
<text x="92.90" y="251.35" text-anchor="middle">10<tspan font-size="10.8" dy="-5.9" dx="-0.6">&#8722;</tspan><tspan font-size="10.8" dx="-0.6">4</tspan></text>
<text x="108" y="13.2" font-size="15.2">Bouncing Branch</text>
<text x="281.2" y="13.2">k = 100 <tspan font-style="italic" font-size="15.5">H</tspan><tspan font-size="11.5" dy="2.5">0</tspan></text>
<text transform="translate(216,274.5) scale(1.22,1)" font-size="15.5" font-style="italic" stroke="none">&#964;</text>
<text x="228.2" y="274.5" font-size="16.2" font-style="italic">H</text>
<text x="239.2" y="278.1" font-size="12.5">0</text>
<g transform="translate(15.0,143.6) rotate(-90)">
<text transform="translate(0,0) scale(1,1.1)" font-size="15.5" font-style="italic">h</text>
<text x="8.3" y="3.3" font-size="12.8" font-style="italic">g</text>
<path d="M20.2 -11.9 H17 V3.6 H20.2 M29.5 -11.9 H32.7 V3.6 H29.5" fill="none" stroke="#000" stroke-width="1.15"/>
<text transform="translate(21.9,0) scale(1.3,1)" font-size="15.5" font-style="italic" stroke="none">&#964;</text>
</g>
</g>
</svg>
</body></html>
